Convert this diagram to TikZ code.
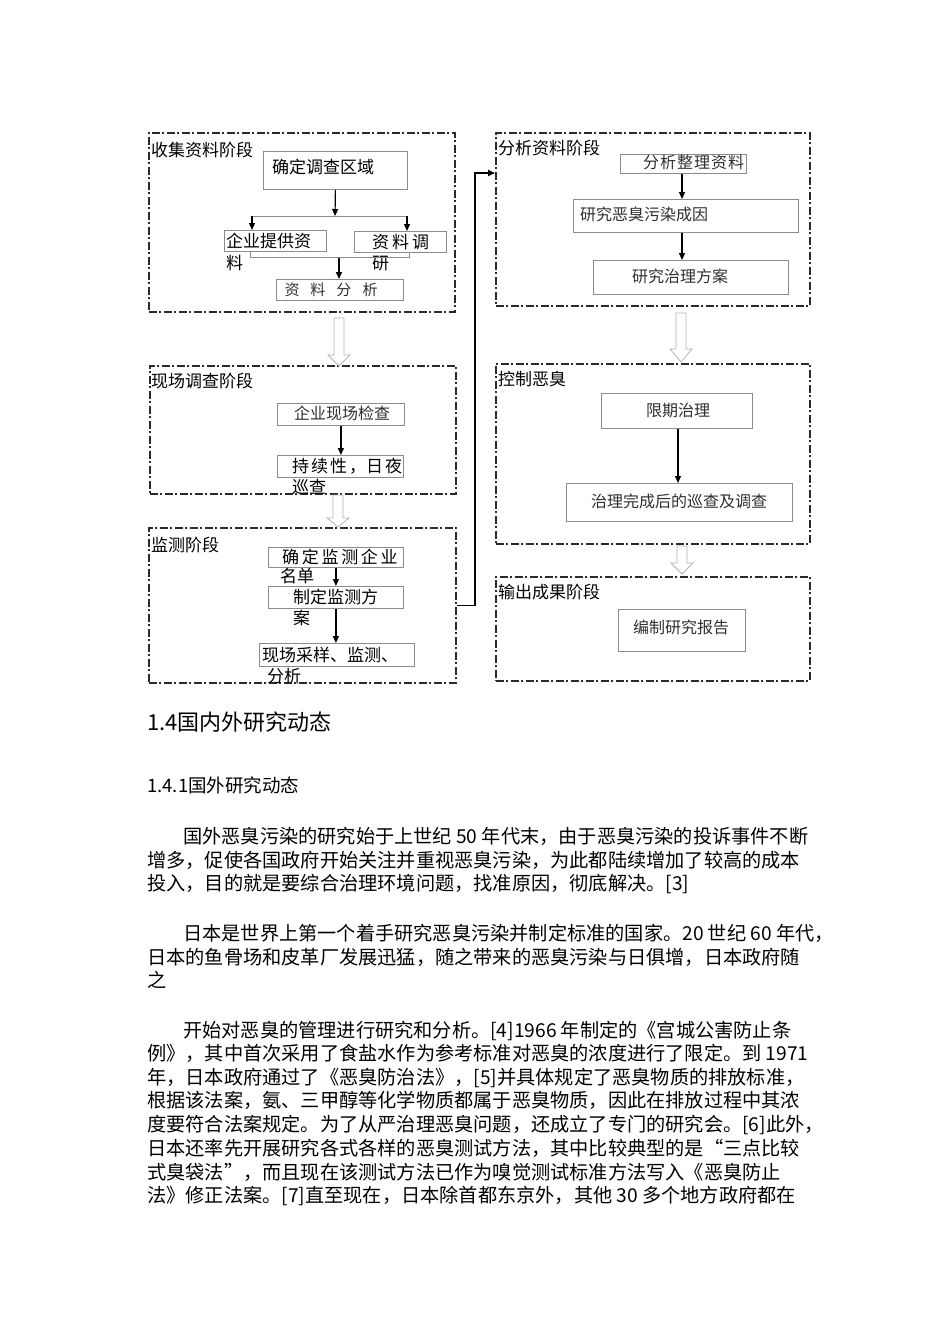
\documentclass[tikz,border=0pt]{standalone}
\usepackage{fontspec}
\newfontfamily\cjk{Noto Sans CJK SC}
\usetikzlibrary{arrows.meta}
\definecolor{stagec}{HTML}{2A2A2A}
\definecolor{iboxc}{HTML}{8C8C8C}
\definecolor{hollowc}{HTML}{B4B4B4}
\definecolor{songc}{HTML}{303030}
\newcommand\harrow[4]{%
  \draw[hollow] ({#1-5},#2) -- ({#1+5},#2) -- ({#1+5},#3) -- ({#1+11},#3) -- (#1,#4) -- ({#1-11},#3) -- ({#1-5},#3) -- cycle;}
\begin{document}
\begin{tikzpicture}[x=1pt,y=-1pt,
  stage/.style={draw=stagec, line width=1.6pt, dash pattern=on 8pt off 2.5pt on 2pt off 2.5pt, anchor=north west, inner sep=0pt},
  ibox/.style={draw=iboxc, line width=0.8pt, anchor=north west, inner sep=0pt},
  hei/.style={inner sep=0pt, anchor=west, font=\cjk\fontsize{17}{20}\selectfont, text height=14.5pt, text depth=2.5pt},
  song/.style={inner sep=0pt, font=\cjk\fontsize{16}{20}\selectfont, text=songc, text height=13.6pt, text depth=2.4pt},
  body/.style={inner sep=0pt, anchor=west, font=\cjk\fontsize{19.2}{23}\selectfont, text height=16.4pt, text depth=2.8pt},
  arr/.style={-{Triangle[length=7pt,width=6pt]}, line width=1.2pt},
  gline/.style={draw=iboxc, line width=0.8pt},
  hollow/.style={draw=hollowc, line width=0.8pt, fill=white},
]
\fill[white] (0,0) rectangle (950,1344);
\useasboundingbox (0,0) rectangle (950,1344);

% ---------- stage boxes ----------
\node[stage, minimum width=306, minimum height=179] (S1) at (148,132) {};
\node[stage, minimum width=306, minimum height=128] (S2) at (149,365) {};
\node[stage, minimum width=307, minimum height=155] (S3) at (148,527) {};
\node[stage, minimum width=314, minimum height=173] (S4) at (495,132) {};
\node[stage, minimum width=314, minimum height=180] (S5) at (495,363) {};
\node[stage, minimum width=314, minimum height=104] (S6) at (495,576) {};

\node[hei] (T1) at (151,150) {收集资料阶段};
\node[hei] (T2) at (151,381) {现场调查阶段};
\node[hei] (T3) at (151,545) {监测阶段};
\node[hei] (T4) at (498,148) {分析资料阶段};
\node[hei] (T5) at (498,379) {控制恶臭};
\node[hei] (T6) at (498,592) {输出成果阶段};

% ---------- stage 1 ----------
\node[ibox, minimum width=144, minimum height=38] (A1) at (263,151) {};
\node[hei] (A1t) at (272,167) {确定调查区域};
\node[ibox, minimum width=102, minimum height=21] (A2) at (224,230) {};
\node[hei] (A2t) at (226,241) {企业提供资};
\node[hei] (A2u) at (226,263) {料};
\node[ibox, minimum width=92, minimum height=21] (A3) at (354,231) {};
\node[hei] (A3t) at (372,242) {资\hspace{3pt}料\hspace{3pt}调};
\node[hei] (A3u) at (372,263) {研};
\node[ibox, minimum width=127, minimum height=21] (A4) at (276,279) {};
\node[song, font=\cjk\fontsize{15}{18}\selectfont] (A4t) at (331,290) {资\hspace{11pt}料\hspace{11pt}分\hspace{11pt}析};

\coordinate (j1) at (335,216);
\coordinate (jL) at (252,216);
\coordinate (jR) at (407,216);
\draw[arr] (A1.south) -- (j1);
\draw[gline] (jL) -- (jR);
\draw[arr] (jL) -- (jL |- A2.north);
\draw[arr] (jR) -- (jR |- A3.north);
\coordinate (bL) at (250,257);
\coordinate (bR) at (409,257);
\coordinate (bM) at (339,258);
\draw[gline] (bL |- A2.south) -- (bL) -- (bR) -- (bR |- A3.south);
\draw[arr, line width=1.6pt] (bM) -- (bM |- A4.north);

% ---------- stage 2 ----------
\node[ibox, minimum width=127, minimum height=22] (B1) at (277,403) {};
\node[song] (B1t) at (342,414) {企业现场检查};
\node[ibox, minimum width=126, minimum height=22] (B2) at (277,455) {};
\node[hei] (B2t) at (292,466) {持\hspace{2pt}续\hspace{2pt}性\hspace{2pt}，日\hspace{2pt}夜};
\node[hei] (B2u) at (292,487) {巡查};
\draw[arr] (B1.south) -- (B1.south |- B2.north);

% ---------- stage 3 ----------
\node[ibox, minimum width=135, minimum height=20] (C1) at (268,547) {};
\node[hei] (C1t) at (282,557) {确\hspace{2.7pt}定\hspace{2.7pt}监\hspace{2.7pt}测\hspace{2.7pt}企\hspace{2.7pt}业};
\node[hei] (C1u) at (280,576) {名单};
\node[ibox, minimum width=135, minimum height=22] (C2) at (268,586) {};
\node[hei] (C2t) at (293,597) {制定监测方};
\node[hei] (C2u) at (293,618) {案};
\node[ibox, minimum width=155, minimum height=23] (C3) at (259,643) {};
\node[hei] (C3t) at (262,655) {现场采样、监测、};
\node[hei] (C3u) at (267,676) {分析};
\draw[arr] (C1.south) -- (C1.south |- C2.north);
\draw[arr] (C2.south) -- (C2.south |- C3.north);

% ---------- stage 4 ----------
\node[ibox, minimum width=126, minimum height=19] (D1) at (620,154) {};
\node[song, anchor=west] (D1t) at (643,163) {分\hspace{1pt}析\hspace{1pt}整\hspace{1pt}理\hspace{1pt}资\hspace{1pt}料};
\node[ibox, minimum width=225, minimum height=33] (D2) at (573,199) {};
\node[song, anchor=west] (D2t) at (580,215) {研究恶臭污染成因};
\node[ibox, minimum width=195, minimum height=34] (D3) at (593,260) {};
\node[song] (D3t) at (680,277) {研究治理方案};
\coordinate (dx) at (682,0);
\draw[arr] (D1.south -| dx) -- (D2.north -| dx);
\draw[arr] (D2.south -| dx) -- (D3.north -| dx);

% ---------- stage 5 ----------
\node[ibox, minimum width=151, minimum height=35] (E1) at (601,393) {};
\node[song] (E1t) at (678,411) {限期治理};
\node[ibox, minimum width=226, minimum height=38] (E2) at (566,483) {};
\node[song] (E2t) at (679,502) {治理完成后的巡查及调查};
\coordinate (ex) at (678,0);
\draw[arr] (E1.south -| ex) -- (E2.north -| ex);

% ---------- stage 6 ----------
\node[ibox, minimum width=127, minimum height=42] (F1) at (618,609) {};
\node[song] (F1t) at (681,628) {编制研究报告};

% ---------- connectors between stages ----------
\harrow{339}{318}{355}{366}
\harrow{338}{495}{518}{527}
\harrow{681}{313}{349}{362}
\harrow{682}{546}{563}{574}
\coordinate (k1) at (475,173);
\draw[arr, line width=1.6pt] (S3.east) -| (k1) -- (k1 -| S4.west);

% ---------- text ----------
\node[body, font=\cjk\fontsize{22}{26}\selectfont, text height=18.8pt, text depth=3.2pt] (H1) at (147,723) {1.4国内外研究动态};
\node[body, font=\cjk\fontsize{18.5}{22}\selectfont, text height=15.8pt, text depth=2.7pt] (H2) at (147,786) {1.4.1国外研究动态};

\node[body] (p1) at (183,837) {国外恶臭污染的研究始于上世纪 50 年代末，由于恶臭污染的投诉事件不断};
\node[body] (p2) at (147,861) {增多，促使各国政府开始关注并重视恶臭污染，为此都陆续增加了较高的成本};
\node[body] (p3) at (147,884) {投入，目的就是要综合治理环境问题，找准原因，彻底解决。[3]};

\node[body] (q1) at (183,934) {日本是世界上第一个着手研究恶臭污染并制定标准的国家。20 世纪 60 年代，};
\node[body] (q2) at (147,958) {日本的鱼骨场和皮革厂发展迅猛，随之带来的恶臭污染与日俱增，日本政府随};
\node[body] (q3) at (147,981) {之};

\node[body] (r1) at (183,1031) {开始对恶臭的管理进行研究和分析。[4]1966 年制定的《宫城公害防止条};
\node[body] (r2) at (147,1054) {例》，其中首次采用了食盐水作为参考标准对恶臭的浓度进行了限定。到 1971};
\node[body] (r3) at (147,1078) {年，日本政府通过了《恶臭防治法》，[5]并具体规定了恶臭物质的排放标准，};
\node[body] (r4) at (147,1101) {根据该法案，氨、三甲醇等化学物质都属于恶臭物质，因此在排放过程中其浓};
\node[body] (r5) at (147,1125) {度要符合法案规定。为了从严治理恶臭问题，还成立了专门的研究会。[6]此外，};
\node[body] (r6) at (147,1149) {日本还率先开展研究各式各样的恶臭测试方法，其中比较典型的是“三点比较};
\node[body] (r7) at (147,1173) {式臭袋法”，而且现在该测试方法已作为嗅觉测试标准方法写入《恶臭防止};
\node[body] (r8) at (147,1196) {法》修正法案。[7]直至现在，日本除首都东京外，其他 30 多个地方政府都在};
\end{tikzpicture}
\end{document}
